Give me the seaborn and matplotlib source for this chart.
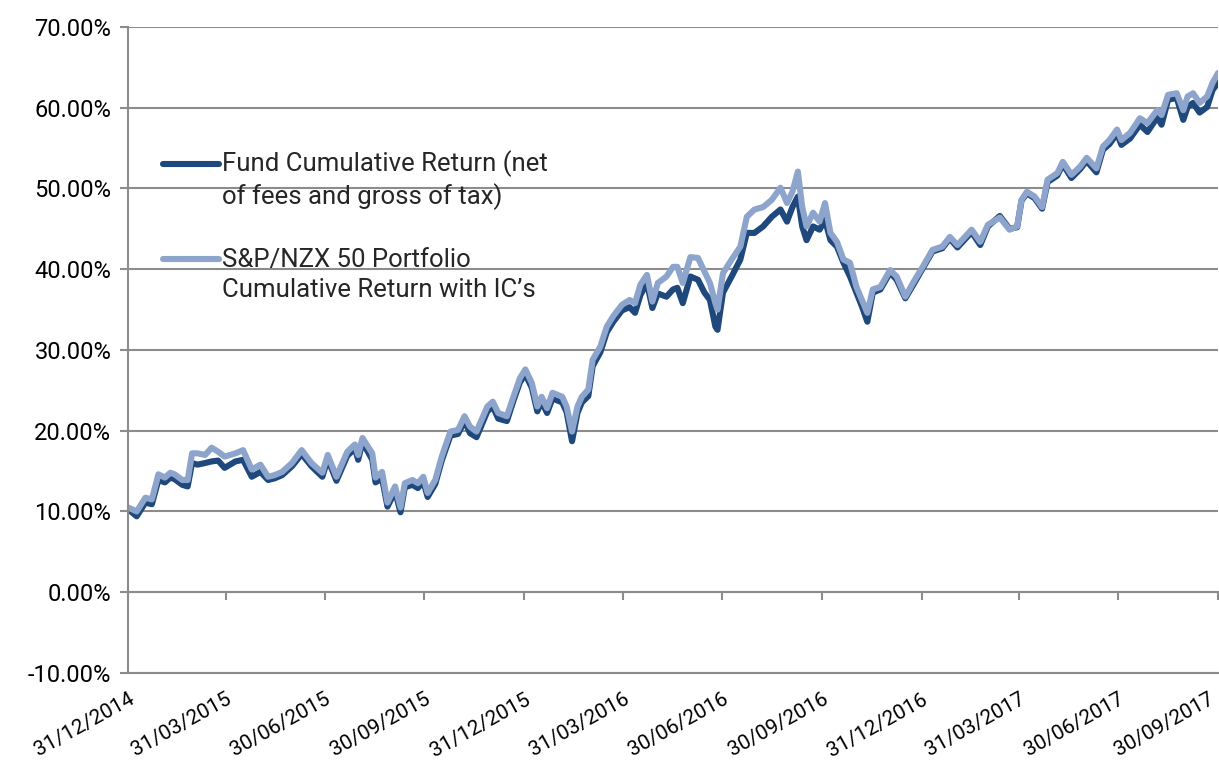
import numpy as np
import pandas as pd
import seaborn as sns
import matplotlib.pyplot as plt
import matplotlib.dates as mdates
import matplotlib.ticker as mticker
import matplotlib.transforms as mtransforms
from matplotlib.legend_handler import HandlerLine2D

# days since 31/12/2014
start_date = "2014-12-31"
day_offset = [0, 8, 16, 22, 28, 34, 39, 43, 50, 55, 59, 64, 71, 77, 83, 89, 99, 106,
              114, 122, 129, 135, 142, 151, 160, 169, 179, 184, 192, 202, 209, 212, 216,
              225, 228, 234, 239, 246, 251, 255, 262, 267, 272, 276, 283, 289, 297, 304,
              310, 315, 321, 331, 336, 341, 349, 355, 361, 366, 372, 377, 381, 386, 391,
              400, 404, 409, 414, 418, 424, 428, 435, 441, 447, 455, 462, 467, 472, 478,
              483, 488, 496, 502, 506, 511, 518, 525, 531, 536, 541, 543, 548, 556, 564,
              570, 577, 585, 593, 601, 607, 612, 617, 621, 625, 631, 637, 642, 647, 653,
              659, 665, 671, 676, 681, 686, 693, 702, 708, 716, 723, 732, 741, 750, 757,
              764, 777, 785, 792, 803, 812, 819, 823, 828, 835, 842, 847, 856, 861, 869,
              877, 883, 892, 898, 904, 911, 915, 923, 932, 939, 948, 952, 958, 966, 972,
              976, 981, 987, 994, 999, 1004]

# S&P/NZX 50 portfolio cumulative return (%)
index_return = [10.5, 10.0, 11.7, 11.5, 14.6, 14.2, 14.8, 14.6, 13.9, 13.9, 17.2, 17.2, 17.0,
                17.9, 17.4, 16.8, 17.2, 17.6, 15.2, 15.8, 14.3, 14.5, 14.9, 16.0, 17.6, 16.0,
                14.8, 17.0, 14.3, 17.4, 18.3, 17.0, 19.1, 17.2, 14.2, 14.9, 11.1, 13.1, 10.5,
                13.5, 13.9, 13.5, 14.3, 12.3, 13.9, 16.8, 19.9, 20.1, 21.8, 20.5, 19.9, 23.0,
                23.6, 22.2, 21.8, 24.2, 26.5, 27.6, 25.9, 23.0, 24.2, 22.8, 24.7, 24.2, 23.0,
                19.9, 23.0, 24.2, 25.1, 28.8, 30.4, 32.9, 34.2, 35.6, 36.2, 35.8, 38.1, 39.3,
                36.0, 38.3, 39.1, 40.3, 40.3, 38.3, 41.5, 41.4, 39.7, 38.3, 35.8, 35.0, 39.5,
                41.2, 42.8, 46.5, 47.4, 47.7, 48.6, 50.1, 48.2, 49.6, 52.1, 47.7, 45.3, 47.0,
                45.9, 48.2, 44.5, 43.4, 41.2, 40.8, 37.8, 36.2, 34.6, 37.5, 37.8, 39.9, 39.1,
                36.6, 38.3, 40.3, 42.4, 42.8, 44.0, 43.0, 44.9, 43.4, 45.5, 46.4, 44.9, 45.3,
                48.6, 49.6, 49.0, 47.7, 51.1, 51.9, 53.3, 51.7, 52.7, 53.8, 52.5, 55.2, 56.0,
                57.3, 56.0, 56.9, 58.7, 58.1, 59.7, 59.1, 61.6, 61.8, 59.7, 61.4, 61.8, 60.6,
                61.4, 63.1, 64.3]

# fund cumulative return, net of fees and gross of tax (%)
fund_return = [10.3, 9.4, 11.1, 10.9, 13.9, 13.6, 14.2, 14.0, 13.3, 13.1, 16.0, 15.8, 16.0,
               16.2, 16.3, 15.4, 16.2, 16.4, 14.3, 14.9, 13.9, 14.1, 14.5, 15.6, 17.1, 15.6,
               14.3, 16.5, 13.8, 16.9, 17.8, 16.4, 18.6, 16.4, 13.6, 14.1, 10.6, 12.5, 9.9,
               13.0, 13.3, 12.9, 13.7, 11.8, 13.4, 16.3, 19.4, 19.6, 21.2, 19.7, 19.2, 22.4,
               23.0, 21.5, 21.2, 23.7, 26.0, 27.0, 25.3, 22.4, 23.6, 22.2, 24.0, 23.5, 22.3,
               18.7, 22.2, 23.5, 24.3, 28.0, 29.7, 32.2, 33.5, 34.9, 35.3, 34.6, 36.8, 38.3,
               35.2, 37.0, 36.6, 37.5, 37.7, 35.8, 39.1, 38.7, 37.1, 36.2, 32.9, 32.5, 37.1,
               39.1, 41.2, 44.5, 44.5, 45.3, 46.5, 47.4, 45.9, 47.7, 49.0, 45.3, 43.6, 45.3,
               44.9, 46.1, 43.6, 42.8, 40.8, 39.1, 37.1, 35.4, 33.5, 37.1, 37.5, 39.6, 38.7,
               36.4, 38.0, 40.1, 42.2, 42.6, 43.8, 42.7, 44.6, 43.0, 45.3, 46.6, 45.0, 45.2,
               48.5, 49.4, 48.8, 47.5, 50.8, 51.6, 53.0, 51.3, 52.4, 53.4, 52.0, 54.8, 55.5,
               56.8, 55.4, 56.2, 57.9, 57.0, 58.8, 57.9, 61.0, 61.2, 58.5, 60.1, 60.6, 59.4,
               60.1, 62.2, 63.1]

series_names = ["Fund Cumulative Return (net\nof fees and gross of tax)",
                "S&P/NZX 50 Portfolio\nCumulative Return with IC\u2019s"]
tick_labels = ["31/12/2014", "31/03/2015", "30/06/2015", "30/09/2015", "31/12/2015",
               "31/03/2016", "30/06/2016", "30/09/2016", "31/12/2016", "31/03/2017",
               "30/06/2017", "30/09/2017"]
y_ticks = [-10, 0, 10, 20, 30, 40, 50, 60, 70]

dark_blue = "#1F487C"
light_blue = "#8DA5CD"
grey = "#8C8C8C"

dates = pd.Timestamp(start_date) + pd.to_timedelta(day_offset, unit="D")
df = pd.concat([
    pd.DataFrame({"date": dates, "value": fund_return, "series": series_names[0]}),
    pd.DataFrame({"date": dates, "value": index_return, "series": series_names[1]}),
])
tick_dates = pd.to_datetime(tick_labels, dayfirst=True)


class FirstLineHandler(HandlerLine2D):
    # put the legend line next to the first line of a two-line label
    def create_artists(self, legend, orig_handle, xdescent, ydescent, width, height, fontsize, trans):
        lift = 0.64 * fontsize
        return super().create_artists(legend, orig_handle, xdescent, ydescent - 2 * lift,
                                      width, height, fontsize, trans)


sns.set_theme(style="white")
plt.rcParams["font.family"] = ["Roboto", "DejaVu Sans"]

fig, ax = plt.subplots(figsize=(12.19, 7.63), dpi=100)
fig.subplots_adjust(left=0.105, right=0.9992, top=0.9646, bottom=0.118)

sns.lineplot(data=df, x="date", y="value", hue="series", hue_order=series_names,
             palette=[dark_blue, light_blue], linewidth=4.4, sort=False, legend=False, ax=ax)

ax.set_xlim(tick_dates[0], tick_dates[-1])
ax.set_ylim(-10, 70)
ax.set_yticks(y_ticks)
ax.yaxis.set_major_formatter(mticker.FuncFormatter(lambda v, p: f"{v:.2f}%"))
ax.yaxis.grid(True, color=grey, linewidth=1.5)
ax.set_axisbelow(True)
ax.set_xlabel("")
ax.set_ylabel("")

ax.set_xticks(tick_dates)
ax.set_xticklabels(tick_labels, rotation=29, ha="right", rotation_mode="anchor")
ax.tick_params(axis="x", length=0, pad=12, labelsize=15, labelcolor="black")
ax.tick_params(axis="y", left=True, length=6, width=1.5, color=grey, pad=6,
               labelsize=17, labelcolor="black")
# keep the last date label inside the figure
last_lbl = ax.get_xticklabels()[-1]
last_lbl.set_transform(last_lbl.get_transform() +
                       mtransforms.ScaledTranslation(-7 / 72, 0, fig.dpi_scale_trans))

for side in ["top", "right"]:
    ax.spines[side].set_visible(False)
for side in ["left", "bottom"]:
    ax.spines[side].set_color(grey)
    ax.spines[side].set_linewidth(1.5)

# category axis crosses at 0%
zero_axis = ax.secondary_xaxis(10 / 80)
zero_axis.set_xticks(mdates.date2num(tick_dates))
zero_axis.set_xticklabels([])
zero_axis.tick_params(length=6, width=1.5, color=grey)
zero_axis.spines["bottom"].set_color(grey)
zero_axis.spines["bottom"].set_linewidth(1.5)

leg = ax.legend(ax.get_lines()[:2], series_names, loc="upper left",
                bbox_to_anchor=(0.032, 0.81), frameon=False, fontsize=18.5,
                handlelength=2.2, handletextpad=0.12, labelspacing=1.45,
                borderpad=0, borderaxespad=0,
                handler_map={plt.Line2D: FirstLineHandler()})
for t in leg.get_texts():
    t.set_linespacing(1.33)

fig.savefig("out.png", dpi=100)
